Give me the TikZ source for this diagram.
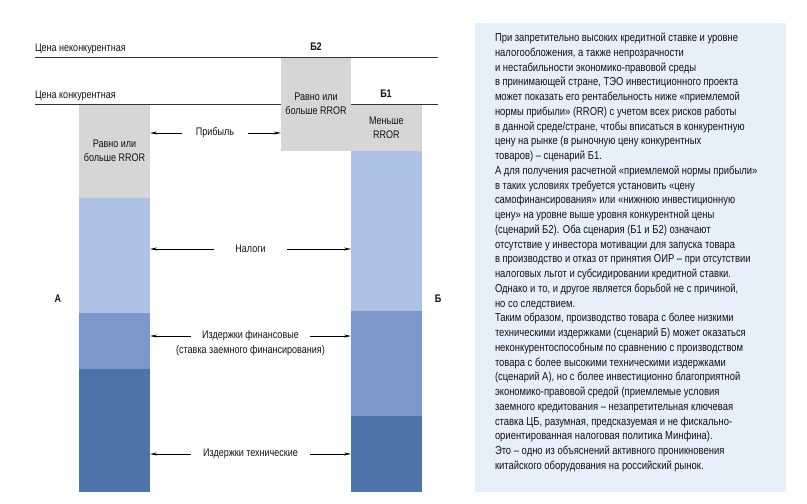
\documentclass[tikz,border=0pt]{standalone}
\usepackage{fontspec}
\setmainfont{Liberation Sans}[FakeStretch=0.82]
\usetikzlibrary{positioning, arrows.meta}
\definecolor{segGray}{HTML}{D6D6D6}
\definecolor{segLight}{HTML}{ADC2E4}
\definecolor{segMid}{HTML}{7E97CB}
\definecolor{segDark}{HTML}{4E72AA}
\definecolor{noteBg}{HTML}{E6F0FA}
\definecolor{inkDark}{HTML}{111111}

\begin{document}
\begin{tikzpicture}[
    x=1pt, y=-1pt,
    % Estilos
    seg/.style={rectangle, draw=none, inner sep=0pt, outer sep=0pt, align=center, text=inkDark, font=\fontsize{11}{14}\selectfont},
    lbl/.style={inner sep=0pt, outer sep=0pt, text=inkDark, font=\fontsize{11}{13}\selectfont},
    lblBold/.style={lbl, font=\fontsize{11}{13}\selectfont\bfseries},
    priceLine/.style={draw=black!80, line width=1.2pt},
    arr/.style={draw=black, line width=0.8pt, -{Stealth[length=7pt, width=3pt]}},
    noteBox/.style={rectangle, fill=noteBg, draw=none, inner sep=0pt, outer sep=0pt},
    noteText/.style={inner sep=0pt, outer sep=0pt, align=left, text=inkDark, font=\fontsize{11.5}{14.75}\selectfont}
]
\useasboundingbox (0,0) rectangle (807,504);

% ==========================
% COORDENADAS X DAS COLUNAS
% ==========================
\def\XA{79}
\def\XBtwo{281}
\def\XBone{351}

% ==========================
% LINHAS DE PRECO
% ==========================
\draw[priceLine] (35,57.7) -- (438,57.7);
\node[lbl, anchor=base west] (pHigh) at (35,51) {Цена неконкурентная};
\draw[priceLine] (35,104.5) -- (438,104.5);
\node[lbl, anchor=base west] (pLow) at (35,98) {Цена конкурентная};

% ==========================
% COLUNA A
% ==========================
\node[seg, fill=segGray, anchor=north west, minimum width=71pt, minimum height=93.5pt] (aGray) at (\XA,104.5) {Равно или\\больше RROR};
\node[seg, fill=segLight, minimum width=71pt, minimum height=115pt, below=0pt of aGray] (aTax) {};
\node[seg, fill=segMid, minimum width=71pt, minimum height=56pt, below=0pt of aTax] (aFin) {};
\node[seg, fill=segDark, minimum width=71pt, minimum height=123pt, below=0pt of aFin] (aTech) {};

% ==========================
% COLUNAS B2 E B1
% ==========================
\node[seg, fill=segGray, anchor=north west, minimum width=70pt, minimum height=93pt] (b2Gray) at (\XBtwo,57.7) {Равно или\\больше RROR};
\node[seg, fill=segGray, anchor=north west, minimum width=70.7pt, minimum height=46.5pt] (b1Gray) at (\XBone,104.5) {Меньше\\RROR};
\node[seg, fill=segLight, minimum width=70.7pt, minimum height=160pt, below=0pt of b1Gray] (bTax) {};
\node[seg, fill=segMid, minimum width=70.7pt, minimum height=105pt, below=0pt of bTax] (bFin) {};
\node[seg, fill=segDark, minimum width=70.7pt, minimum height=76pt, below=0pt of bFin] (bTech) {};

% Rotulos das colunas
\node[lblBold] (b2Name) at (316,47) {Б2};
\node[lblBold] (b1Name) at (386,94) {Б1};
\node[lblBold] (aName) at (58,299) {А};
\node[lblBold] (bName) at (438,299) {Б};

% ==========================
% SETAS ENTRE AS COLUNAS
% ==========================
\node[lbl, minimum width=66pt] (profit) at (215,133) {Прибыль};
\draw[arr] (profit.west) -- (aGray.east |- profit.west);
\draw[arr] (profit.east) -- (b2Gray.west |- profit.east);

\node[lbl, minimum width=73pt] (tax) at (250.5,249) {Налоги};
\draw[arr] (tax.west) -- (aTax.east |- tax.west);
\draw[arr] (tax.east) -- (bTax.west |- tax.east);

\node[lbl, minimum width=119pt] (fin) at (250.5,336) {Издержки финансовые};
\node[lbl] (finNote) at (250.5,351) {(ставка заемного финансирования)};
\draw[arr] (fin.west) -- (aFin.east |- fin.west);
\draw[arr] (fin.east) -- (bFin.west |- fin.east);

\node[lbl, minimum width=119pt] (tech) at (250.5,454) {Издержки технические};
\draw[arr] (tech.west) -- (aTech.east |- tech.west);
\draw[arr] (tech.east) -- (bTech.west |- tech.east);

% ==========================
% TEXTO EXPLICATIVO
% ==========================
\node[noteBox, anchor=north west, minimum width=311pt, minimum height=469pt] (bg) at (475,23) {};
\node[noteText, anchor=north west] (note) at ([xshift=20pt, yshift=-10pt]bg.north west) {%
При запретительно высоких кредитной ставке и уровне\\
налогообложения, а также непрозрачности\\
и нестабильности экономико-правовой среды\\
в принимающей стране, ТЭО инвестиционного проекта\\
может показать его рентабельность ниже «приемлемой\\
нормы прибыли» (RROR) с учетом всех рисков работы\\
в данной среде/стране, чтобы вписаться в конкурентную\\
цену на рынке (в рыночную цену конкурентных\\
товаров) – сценарий Б1.\\
А для получения расчетной «приемлемой нормы прибыли»\\
в таких условиях требуется установить «цену\\
самофинансирования» или «нижнюю инвестиционную\\
цену» на уровне выше уровня конкурентной цены\\
(сценарий Б2). Оба сценария (Б1 и Б2) означают\\
отсутствие у инвестора мотивации для запуска товара\\
в производство и отказ от принятия ОИР – при отсутствии\\
налоговых льгот и субсидировании кредитной ставки.\\
Однако и то, и другое является борьбой не с причиной,\\
но со следствием.\\
Таким образом, производство товара с более низкими\\
техническими издержками (сценарий Б) может оказаться\\
неконкурентоспособным по сравнению с производством\\
товара с более высокими техническими издержками\\
(сценарий А), но с более инвестиционно благоприятной\\
экономико-правовой средой (приемлемые условия\\
заемного кредитования – незапретительная ключевая\\
ставка ЦБ, разумная, предсказуемая и не фискально-\\
ориентированная налоговая политика Минфина).\\
Это – одно из объяснений активного проникновения\\
китайского оборудования на российский рынок.};

\end{tikzpicture}
\end{document}
